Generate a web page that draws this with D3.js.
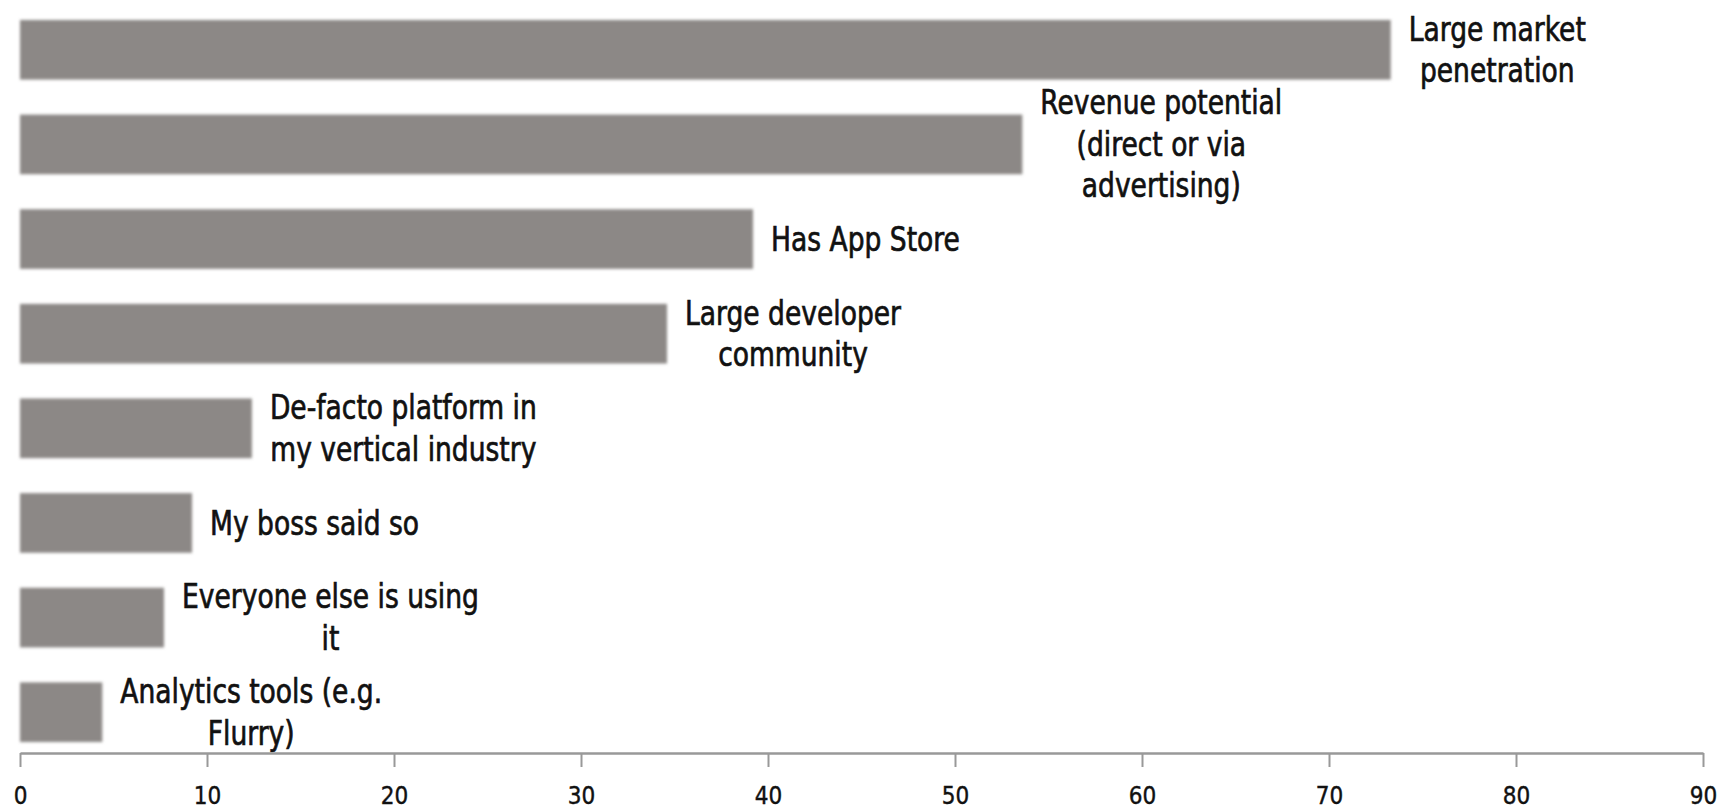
<!DOCTYPE html>
<html><head><meta charset="utf-8">
<script src="https://cdn.jsdelivr.net/npm/d3@7"></script>
<style>body{margin:0;background:#fff}svg{display:block}</style>
</head><body>
<svg id="c" width="1721" height="812"></svg>
<script>
const categories = [
  ["Large market", "penetration"],
  ["Revenue potential", "(direct or via", "advertising)"],
  ["Has App Store"],
  ["Large developer", "community"],
  ["De-facto platform in", "my vertical industry"],
  ["My boss said so"],
  ["Everyone else is using", "it"],
  ["Analytics tools (e.g.", "Flurry)"]
];
const values = [73.3, 53.6, 39.2, 34.6, 12.4, 9.2, 7.7, 4.4];
const xTicks = [0, 10, 20, 30, 40, 50, 60, 70, 80, 90];

const svg = d3.select("#c");
const x = d3.scaleLinear().domain([0, 90]).range([20, 1703]);
const y = d3.scaleBand().domain(d3.range(categories.length)).range([9, 753]).paddingInner(0.37).paddingOuter(0.116);

const defs = svg.append("defs");
const f = defs.append("filter").attr("id", "soft").attr("x", "-5%").attr("y", "-20%").attr("width", "110%").attr("height", "140%");
f.append("feGaussianBlur").attr("stdDeviation", 1.6);

svg.append("g").selectAll("rect").data(values).join("rect")
  .attr("x", x(0)).attr("y", (d, i) => y(i))
  .attr("width", d => x(d) - x(0)).attr("height", y.bandwidth())
  .attr("fill", "#8c8886").attr("filter", "url(#soft)");

const FONT = "'DejaVu Sans Condensed','Liberation Sans Narrow',sans-serif";
const fontSize = 29.5, lineH = 41.5 / 1.12;
const lab = svg.append("g").attr("font-family", FONT)
  .attr("font-size", fontSize).attr("fill", "#111").attr("stroke", "#111").attr("stroke-width", 0.6);
categories.forEach((lines, i) => {
  const cy = y(i) + y.bandwidth() / 2;
  const t = lab.append("text").attr("text-anchor", "middle");
  const spans = lines.map((l, k) => t.append("tspan").text(l).attr("x", 0)
    .attr("y", (k - (lines.length - 1) / 2) * lineH).attr("dy", "0.35em"));
  const w = d3.max(spans, s => s.node().getComputedTextLength());
  const cx = x(values[i]) + 18 + w / 2;
  t.attr("transform", `translate(${cx},${cy}) scale(1,1.12)`);
});

const axis = d3.axisBottom(x).tickValues(xTicks).tickSize(14).tickPadding(20).tickSizeOuter(0);
const ag = svg.append("g").attr("transform", "translate(0,753)").call(axis);
ag.select(".domain").attr("stroke", "#999").attr("stroke-width", 2.5);
ag.selectAll(".tick line").attr("stroke", "#999").attr("stroke-width", 2);
ag.selectAll(".tick text").attr("font-family", FONT)
  .attr("font-size", 24).attr("fill", "#111").attr("stroke", "#111").attr("stroke-width", 0.4);
</script>
</body></html>
